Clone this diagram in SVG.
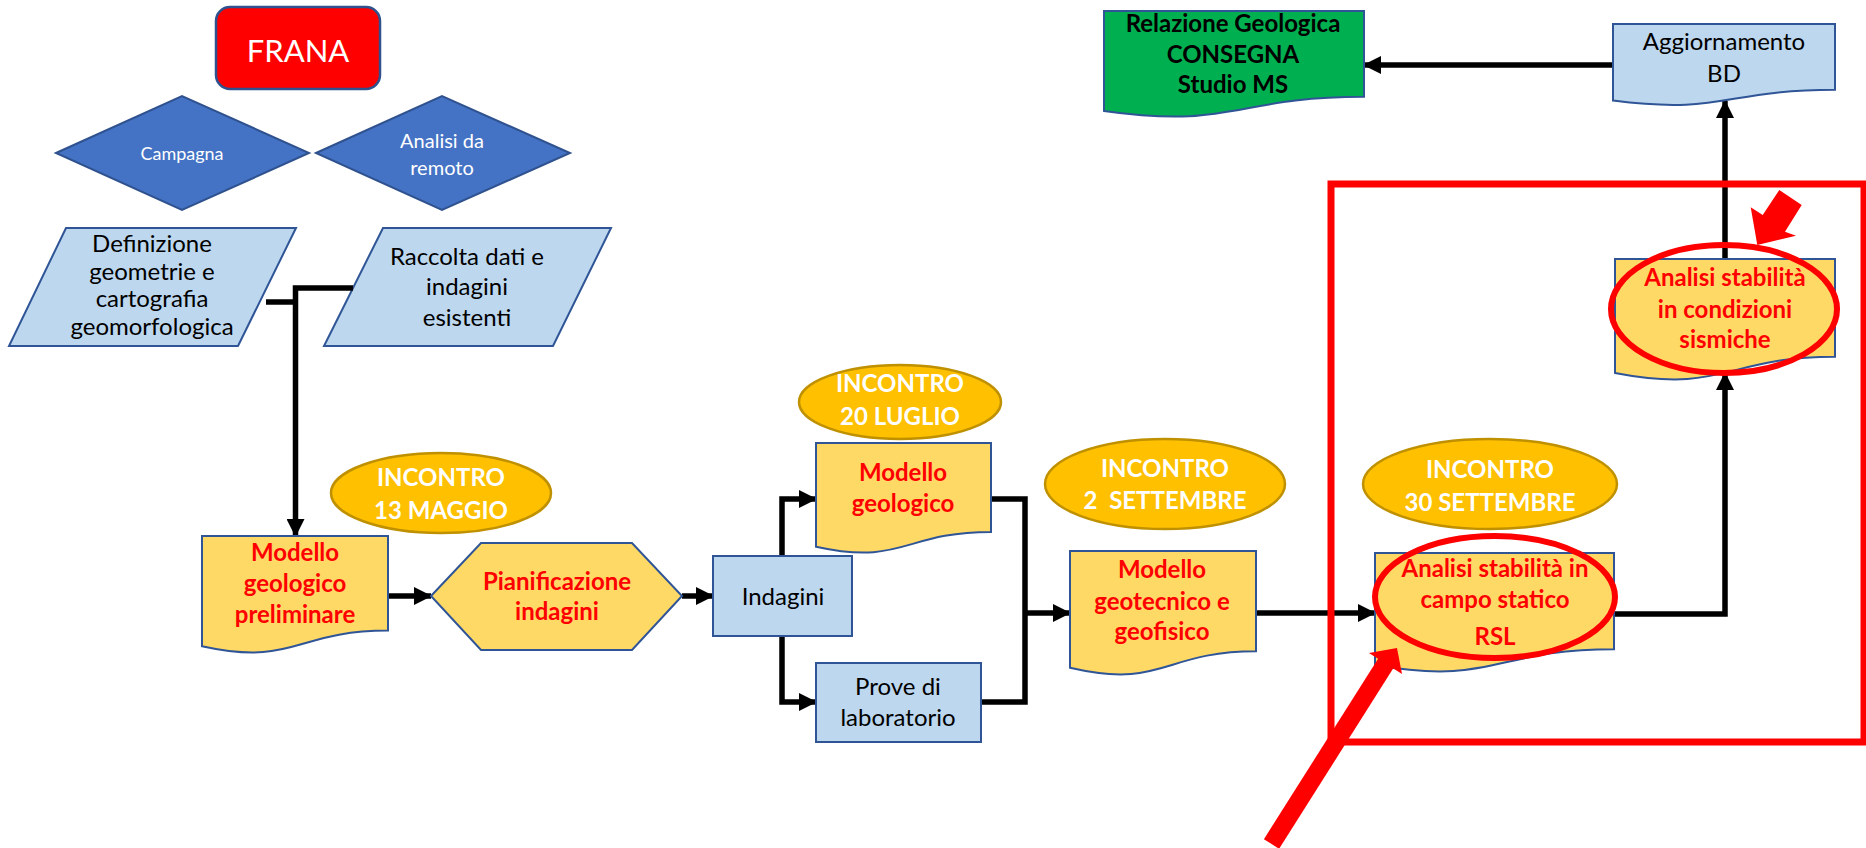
<svg xmlns="http://www.w3.org/2000/svg" width="1866" height="848" viewBox="0 0 1866 848">
<defs>
<marker id="ah" markerUnits="userSpaceOnUse" markerWidth="18" markerHeight="18" refX="17" refY="9" orient="auto">
<path d="M0,0 L18,9 L0,18 Z" fill="#000"/>
</marker>
<style>
text{font-family:Lato,"Liberation Sans",sans-serif;text-anchor:middle}
.doc{fill:#FFD966;stroke:#2F5597;stroke-width:2}
.blue{fill:#BDD7EE;stroke:#2F5597;stroke-width:2}
.dia{fill:#4472C4;stroke:#2F528F;stroke-width:2}
.ell{fill:#FFC000;stroke:#BF9000;stroke-width:2.5}
.rt{fill:#FF0000;font-weight:bold;font-size:24px}
.bt{fill:#000;font-size:24px}
.wt{fill:#fff;font-weight:bold;font-size:24px}
.con{fill:none;stroke:#000;stroke-width:5.5}
.arr{marker-end:url(#ah)}
.hl{fill:none;stroke:#FF0000;stroke-width:6}
</style>
</defs>
<rect width="1866" height="848" fill="#fff"/>

<g id="frana">
<rect x="216" y="7" width="164" height="82" rx="14" fill="#FF0000" stroke="#2F528F" stroke-width="2.5"/>
<text x="298" y="62" style="font-size:31px" fill="#fff">FRANA</text>
</g>
<g id="campagna">
<polygon class="dia" points="56,153 182,96 309,153 182,210"/>
<text x="182" y="160" style="font-size:18px" fill="#fff">Campagna</text>
</g>
<g id="remoto">
<polygon class="dia" points="316,153 442,96 570,153 442,210"/>
<text x="442" y="148" style="font-size:20px" fill="#fff">Analisi da</text>
<text x="442" y="175" style="font-size:20px" fill="#fff">remoto</text>
</g>
<g id="definizione">
<polygon class="blue" points="66,228 296,228 238,346 9,346"/>
<text class="bt" x="152" y="252">Definizione</text>
<text class="bt" x="152" y="280">geometrie e</text>
<text class="bt" x="152" y="307">cartografia</text>
<text class="bt" x="152" y="335">geomorfologica</text>
</g>
<g id="raccolta">
<polygon class="blue" points="383,228 611,228 553,346 324,346"/>
<text class="bt" x="467" y="265">Raccolta dati e</text>
<text class="bt" x="467" y="295">indagini</text>
<text class="bt" x="467" y="326">esistenti</text>
</g>

<g id="connectors">
<path class="con" d="M266,302 H295.5"/>
<path class="con arr" d="M353,288 H295.5 V536"/>
<path class="con arr" d="M388,596 H431"/>
<path class="con arr" d="M682,596 H713"/>
<path class="con arr" d="M782,556 V499 H816"/>
<path class="con arr" d="M782,636 V702 H816"/>
<path class="con" d="M991,499 H1025 V702 H981"/>
<path class="con arr" d="M1025,613 H1070"/>
<path class="con arr" d="M1256,613 H1375"/>
<path class="con arr" d="M1614,614 H1725 V373"/>
<path class="con arr" d="M1725,259 V101"/>
<path class="con arr" d="M1613,65 H1364"/>
</g>

<g id="incontro13">
<ellipse class="ell" cx="441" cy="493" rx="110" ry="40"/>
<text class="wt" x="441" y="486">INCONTRO</text>
<text class="wt" x="441" y="519">13 MAGGIO</text>
</g>
<g id="modello-prel">
<path class="doc" d="M202,536 H388 V630.6 C295,630.6 295,666.7 202,646.2 Z"/>
<text class="rt" x="295" y="561">Modello</text>
<text class="rt" x="295" y="592">geologico</text>
<text class="rt" x="295" y="623">preliminare</text>
</g>
<g id="pianificazione">
<polygon class="doc" points="431,596 481,543 632,543 682,596 632,650 481,650"/>
<text class="rt" x="557" y="590">Pianificazione</text>
<text class="rt" x="557" y="620">indagini</text>
</g>
<g id="indagini">
<rect class="blue" x="713" y="556" width="139" height="80"/>
<text class="bt" x="783" y="605">Indagini</text>
</g>
<g id="incontro20">
<ellipse class="ell" cx="900" cy="402" rx="101" ry="37"/>
<text class="wt" x="900" y="392">INCONTRO</text>
<text class="wt" x="900" y="425">20 LUGLIO</text>
</g>
<g id="modello-geologico">
<path class="doc" d="M816,443 H991 V532 C903.5,532 903.5,565.9 816,546.7 Z"/>
<text class="rt" x="903" y="481">Modello</text>
<text class="rt" x="903" y="512">geologico</text>
</g>
<g id="prove">
<rect class="blue" x="816" y="663" width="165" height="79"/>
<text class="bt" x="898" y="695">Prove di</text>
<text class="bt" x="898" y="726">laboratorio</text>
</g>
<g id="incontro2">
<ellipse class="ell" cx="1165" cy="484" rx="120" ry="45"/>
<text class="wt" x="1165" y="477">INCONTRO</text>
<text class="wt" x="1165" y="509" style="white-space:pre">2  SETTEMBRE</text>
</g>
<g id="modello-geotecnico">
<path class="doc" d="M1070,551 H1256 V651.3 C1163,651.3 1163,689.4 1070,667.8 Z"/>
<text class="rt" x="1162" y="578">Modello</text>
<text class="rt" x="1162" y="610">geotecnico e</text>
<text class="rt" x="1162" y="640">geofisico</text>
</g>
<g id="incontro30">
<ellipse class="ell" cx="1490" cy="484" rx="127" ry="45"/>
<text class="wt" x="1490" y="478">INCONTRO</text>
<text class="wt" x="1490" y="511">30 SETTEMBRE</text>
</g>
<g id="analisi-statico">
<path class="doc" d="M1375,553 H1614 V649.2 C1494.5,649.2 1494.5,685.9 1375,665.1 Z"/>
<text class="rt" x="1495" y="577">Analisi stabilità in</text>
<text class="rt" x="1495" y="608">campo statico</text>
<text class="rt" x="1495" y="645">RSL</text>
</g>
<g id="analisi-sismiche">
<path class="doc" d="M1615,259 H1835 V356.8 C1725,356.8 1725,394.1 1615,372.9 Z"/>
<text class="rt" x="1725" y="286">Analisi stabilità</text>
<text class="rt" x="1725" y="318">in condizioni</text>
<text class="rt" x="1725" y="348">sismiche</text>
</g>
<g id="aggiornamento">
<path class="blue" d="M1613,24 H1835 V89.8 C1724,89.8 1724,114.8 1613,100.6 Z"/>
<text class="bt" x="1724" y="50">Aggiornamento</text>
<text class="bt" x="1724" y="82">BD</text>
</g>
<g id="relazione">
<path d="M1104,11 H1364 V96.8 C1234,96.8 1234,129.5 1104,110.9 Z" fill="#00B050" stroke="#2F5597" stroke-width="2"/>
<text class="bt" x="1233" y="32" style="font-weight:bold">Relazione Geologica</text>
<text class="bt" x="1233" y="63" style="font-weight:bold">CONSEGNA</text>
<text class="bt" x="1233" y="93" style="font-weight:bold">Studio MS</text>
</g>

<g id="highlights">
<rect x="1331" y="184" width="533" height="558" fill="none" stroke="#FF0000" stroke-width="7"/>
<ellipse class="hl" cx="1495" cy="597" rx="120" ry="61"/>
<ellipse class="hl" cx="1724" cy="309" rx="113" ry="64"/>
<line x1="1271.5" y1="844" x2="1386" y2="663" stroke="#FF0000" stroke-width="18"/>
<polygon points="1369,653 1397,648 1402,674" fill="#FF0000"/>
<polygon points="1779.3,190 1801.7,205 1785,231.7 1796,235.7 1757.3,245 1750.7,207.3 1762.7,215" fill="#FF0000"/>
</g>
</svg>
